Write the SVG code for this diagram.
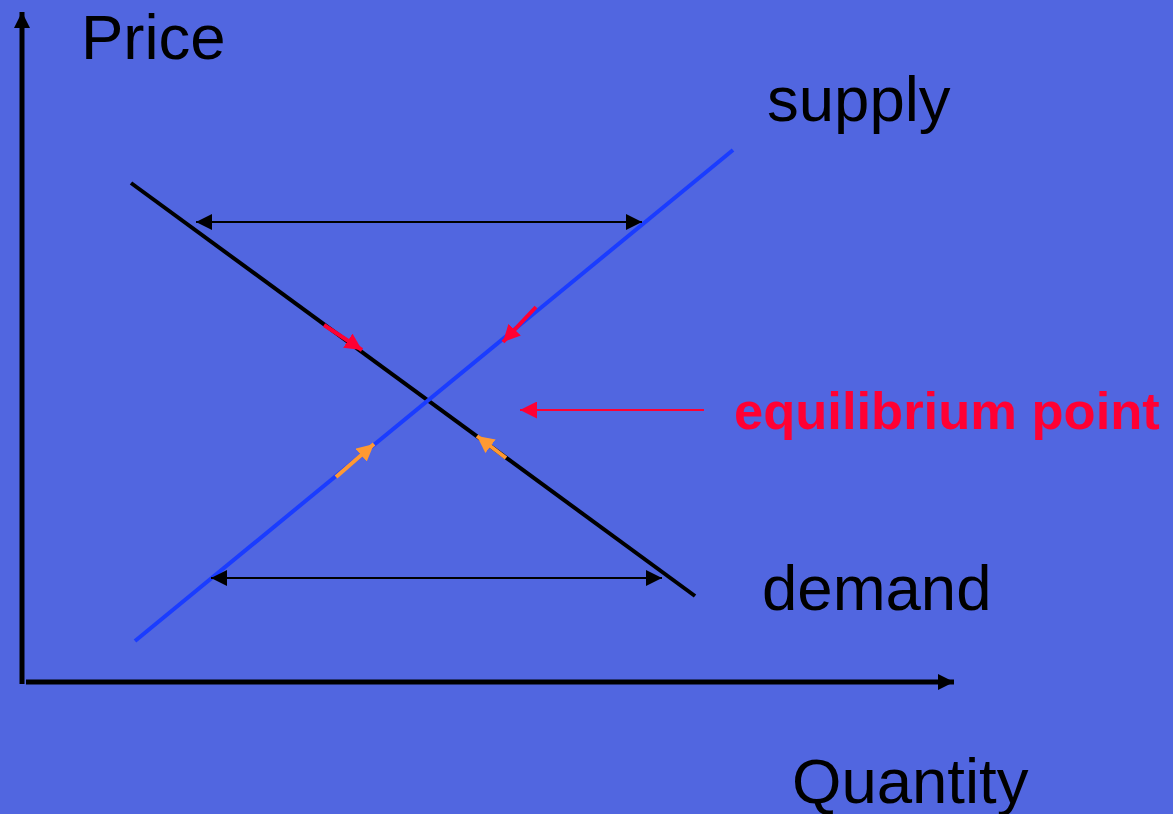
<svg xmlns="http://www.w3.org/2000/svg" width="1173" height="814" viewBox="0 0 1173 814">
<style>
.lbl{font-family:"Liberation Sans",Arial,sans-serif;font-size:63.5px;fill:#000}
.eq{font-family:"Liberation Sans",Arial,sans-serif;font-size:52.5px;font-weight:bold;fill:#FF0033}
</style>
<defs>
<marker id="hk" viewBox="0 0 16 16" refX="16" refY="8" markerWidth="16" markerHeight="16" markerUnits="userSpaceOnUse" orient="auto-start-reverse"><path d="M0,0 L16,8 L0,16 Z" fill="#000"/></marker>
<marker id="hr" viewBox="0 0 16 16" refX="16" refY="8" markerWidth="17" markerHeight="17" markerUnits="userSpaceOnUse" orient="auto"><path d="M0,0 L16,8 L0,16 Z" fill="#FF0033"/></marker>
<marker id="ho" viewBox="0 0 16 16" refX="16" refY="8" markerWidth="17" markerHeight="17" markerUnits="userSpaceOnUse" orient="auto"><path d="M0,0 L16,8 L0,16 Z" fill="#FF9933"/></marker>
</defs>
<rect width="1173" height="814" fill="#5166E0"/>
<g id="axes">
<line x1="22" y1="684" x2="22" y2="12" stroke="#000" stroke-width="5" marker-end="url(#hk)"/>
<line x1="26" y1="682" x2="954" y2="682" stroke="#000" stroke-width="5" marker-end="url(#hk)"/>
</g>
<g id="demand-curve"><line x1="131" y1="183" x2="695" y2="596" stroke="#000" stroke-width="4"/></g>
<g id="supply-curve"><line x1="135" y1="641" x2="733" y2="150" stroke="#1A3CFF" stroke-width="4"/></g>
<g id="connectors">
<line x1="196" y1="222" x2="642" y2="222" stroke="#000" stroke-width="2" marker-start="url(#hk)" marker-end="url(#hk)"/>
<line x1="211" y1="578" x2="662" y2="578" stroke="#000" stroke-width="2" marker-start="url(#hk)" marker-end="url(#hk)"/>
<line x1="704" y1="410" x2="520" y2="410" stroke="#FF0033" stroke-width="2" marker-end="url(#hr)"/>
<line x1="324" y1="325" x2="362" y2="350" stroke="#FF0033" stroke-width="4" marker-end="url(#hr)"/>
<line x1="536" y1="307" x2="503" y2="342" stroke="#FF0033" stroke-width="4" marker-end="url(#hr)"/>
<line x1="336" y1="477" x2="374" y2="444" stroke="#FF9933" stroke-width="4" marker-end="url(#ho)"/>
<line x1="506" y1="458" x2="477" y2="436" stroke="#FF9933" stroke-width="4" marker-end="url(#ho)"/>
</g>
<g id="label-price"><text class="lbl" x="81" y="59">Price</text></g>
<g id="label-supply"><text class="lbl" x="767" y="121">supply</text></g>
<g id="label-demand"><text class="lbl" x="762" y="610">demand</text></g>
<g id="label-quantity"><text class="lbl" x="792" y="803">Quantity</text></g>
<g id="label-equilibrium"><text class="eq" x="734" y="429">equilibrium point</text></g>
</svg>
